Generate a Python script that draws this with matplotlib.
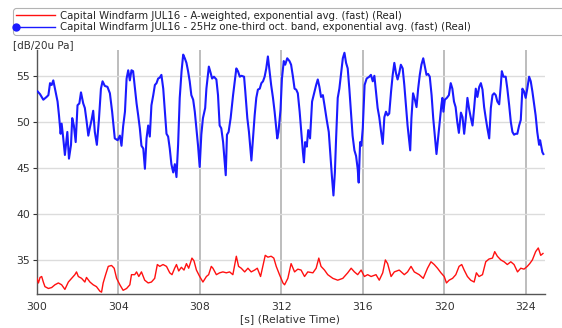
import matplotlib
matplotlib.use("Agg")
import matplotlib.pyplot as plt
from matplotlib.legend_handler import HandlerLine2D

# ---------------- data ----------------
blue_t = [300.03, 300.15, 300.31, 300.47, 300.56, 300.64, 300.72, 300.80, 300.91, 301.01,
          301.08, 301.16, 301.21, 301.29, 301.37, 301.49, 301.57, 301.67, 301.73, 301.81,
          301.90, 301.99, 302.08, 302.16, 302.27, 302.35, 302.44, 302.52, 302.60, 302.68,
          302.76, 302.84, 302.94, 303.04, 303.14, 303.22, 303.33, 303.46, 303.58, 303.69,
          303.82, 303.96, 304.07, 304.15, 304.23, 304.32, 304.40, 304.48, 304.56, 304.64,
          304.72, 304.81, 304.89, 304.97, 305.05, 305.13, 305.22, 305.30, 305.38, 305.46,
          305.54, 305.62, 305.71, 305.79, 305.87, 305.95, 306.03, 306.11, 306.20, 306.28,
          306.36, 306.44, 306.52, 306.60, 306.69, 306.77, 306.85, 306.93, 307.01, 307.10,
          307.18, 307.26, 307.34, 307.42, 307.50, 307.58, 307.67, 307.75, 307.83, 307.91,
          307.99, 308.07, 308.15, 308.26, 308.32, 308.44, 308.53, 308.60, 308.69, 308.81,
          308.89, 308.97, 309.05, 309.14, 309.22, 309.27, 309.33, 309.41, 309.51, 309.63,
          309.79, 309.87, 309.96, 310.04, 310.17, 310.23, 310.33, 310.41, 310.53, 310.61,
          310.69, 310.77, 310.85, 310.94, 311.02, 311.10, 311.18, 311.26, 311.34, 311.42,
          311.50, 311.59, 311.67, 311.75, 311.80, 311.86, 311.96, 312.03, 312.12, 312.19,
          312.29, 312.40, 312.48, 312.57, 312.65, 312.73, 312.81, 312.90, 312.98, 313.06,
          313.11, 313.17, 313.25, 313.32, 313.41, 313.51, 313.63, 313.71, 313.79, 313.87,
          313.95, 314.04, 314.12, 314.23, 314.33, 314.40, 314.48, 314.56, 314.63, 314.69,
          314.77, 314.85, 314.94, 315.02, 315.10, 315.18, 315.26, 315.34, 315.42, 315.50,
          315.59, 315.67, 315.75, 315.80, 315.87, 315.93, 316.00, 316.09, 316.19, 316.32,
          316.40, 316.49, 316.57, 316.65, 316.73, 316.81, 316.90, 316.98, 317.06, 317.14,
          317.22, 317.30, 317.39, 317.47, 317.55, 317.63, 317.71, 317.79, 317.87, 317.96,
          318.04, 318.12, 318.20, 318.27, 318.33, 318.39, 318.47, 318.56, 318.64, 318.72,
          318.80, 318.88, 318.97, 319.05, 319.13, 319.21, 319.29, 319.38, 319.46, 319.54,
          319.62, 319.70, 319.78, 319.86, 319.91, 319.96, 320.03, 320.13, 320.23, 320.32,
          320.40, 320.48, 320.56, 320.64, 320.72, 320.82, 320.90, 320.98, 321.06, 321.14,
          321.23, 321.31, 321.39, 321.47, 321.55, 321.63, 321.72, 321.80, 321.88, 321.96,
          322.04, 322.12, 322.21, 322.29, 322.37, 322.45, 322.53, 322.61, 322.70, 322.78,
          322.83, 322.91, 323.02, 323.10, 323.19, 323.27, 323.35, 323.43, 323.51, 323.59,
          323.68, 323.76, 323.84, 323.92, 324.00, 324.08, 324.17, 324.25, 324.33, 324.41,
          324.49, 324.57, 324.66, 324.71, 324.77, 324.82, 324.87]
blue_v = [53.3, 53.0, 52.4, 52.7, 52.9, 54.2, 54.0, 54.5, 53.3, 52.2,
          50.7, 48.7, 49.8, 48.2, 46.4, 48.9, 46.0, 47.5, 50.4, 49.6,
          47.8, 51.8, 52.0, 53.2, 52.0, 51.5, 50.0, 48.5, 49.4, 50.2,
          51.2, 48.9, 47.5, 50.2, 53.6, 54.4, 53.9, 53.8, 53.1, 51.1,
          48.2, 48.0, 48.5, 47.4, 49.5, 51.1, 54.7, 55.6, 54.5, 55.6,
          55.5, 53.6, 52.0, 50.7, 49.3, 47.4, 47.1, 44.9, 48.2, 49.6,
          48.4, 51.8, 52.9, 54.0, 54.2, 54.7, 54.8, 55.1, 53.6, 51.1,
          48.7, 48.4, 47.1, 45.4, 44.5, 45.4, 44.0, 47.5, 52.6, 55.5,
          57.3, 56.9, 56.4, 55.5, 54.4, 52.9, 52.4, 51.1, 49.3, 47.4,
          45.1, 48.6, 50.4, 51.5, 53.6, 56.0, 55.3, 54.7, 54.9, 54.6,
          52.9, 49.6, 49.3, 47.8, 45.6, 44.2, 48.6, 48.9, 50.4, 52.9,
          55.8, 55.5, 54.9, 55.0, 54.9, 53.3, 50.4, 48.9, 45.8, 48.2,
          50.7, 52.6, 53.5, 53.6, 54.2, 54.4, 54.9, 55.8, 57.1, 55.5,
          54.0, 52.6, 51.1, 49.3, 48.2, 48.9, 51.3, 54.7, 56.6, 56.2,
          56.9, 56.6, 56.2, 54.9, 53.6, 53.5, 53.1, 51.1, 48.9, 46.7,
          45.6, 47.8, 47.3, 49.1, 48.2, 52.2, 53.3, 54.0, 54.6, 53.8,
          52.7, 52.9, 51.8, 50.2, 48.9, 46.7, 44.2, 42.0, 44.5, 48.2,
          52.6, 53.6, 55.3, 56.9, 57.5, 56.4, 55.8, 53.6, 51.1, 48.5,
          46.9, 46.3, 44.9, 43.4, 47.8, 47.4, 49.3, 54.0, 54.7, 54.9,
          55.1, 54.4, 55.0, 53.3, 51.5, 50.5, 48.9, 47.6, 50.5, 51.1,
          50.7, 50.9, 53.3, 55.1, 56.4, 55.3, 54.6, 55.3, 56.2, 55.8,
          54.0, 51.8, 49.6, 48.2, 46.9, 50.4, 53.1, 52.4, 51.6, 53.6,
          55.1, 56.2, 56.9, 56.0, 55.1, 55.2, 54.9, 52.9, 50.4, 48.5,
          46.5, 48.2, 50.0, 51.8, 52.6, 51.1, 52.4, 52.6, 52.9, 54.2,
          53.6, 52.2, 51.6, 50.0, 48.8, 51.0, 50.5, 48.7, 50.4, 52.6,
          51.3, 50.4, 49.6, 51.5, 53.6, 52.7, 53.8, 54.2, 53.5, 51.6,
          50.4, 49.3, 48.2, 51.5, 52.9, 53.1, 52.9, 52.2, 51.9, 54.0,
          55.5, 54.9, 54.9, 53.6, 51.8, 50.0, 48.9, 48.6, 48.7, 48.7,
          49.6, 50.2, 53.6, 53.3, 52.6, 53.6, 54.9, 54.4, 53.3, 52.0,
          50.7, 48.9, 47.5, 48.0, 47.3, 46.7, 46.5]

red_t = [300.00, 300.07, 300.15, 300.23, 300.31, 300.39, 300.56, 300.72, 300.88, 301.05,
         301.21, 301.37, 301.54, 301.70, 301.86, 301.94, 302.03, 302.19, 302.35, 302.43,
         302.60, 302.76, 302.92, 303.09, 303.17, 303.25, 303.37, 303.50, 303.66, 303.79,
         303.91, 304.07, 304.23, 304.40, 304.56, 304.64, 304.80, 304.89, 305.00, 305.13,
         305.29, 305.46, 305.62, 305.78, 305.91, 306.03, 306.19, 306.36, 306.52, 306.63,
         306.76, 306.85, 306.96, 307.09, 307.22, 307.34, 307.45, 307.61, 307.71, 307.83,
         307.99, 308.15, 308.32, 308.43, 308.56, 308.64, 308.81, 308.97, 309.13, 309.30,
         309.46, 309.62, 309.79, 309.90, 310.03, 310.20, 310.36, 310.52, 310.69, 310.82,
         310.98, 311.09, 311.21, 311.34, 311.50, 311.63, 311.75, 311.91, 312.08, 312.16,
         312.32, 312.48, 312.65, 312.81, 312.97, 313.14, 313.30, 313.55, 313.71, 313.84,
         313.95, 314.12, 314.28, 314.53, 314.77, 315.02, 315.26, 315.43, 315.59, 315.75,
         315.92, 316.08, 316.24, 316.41, 316.65, 316.81, 316.98, 317.11, 317.22, 317.39,
         317.55, 317.79, 318.04, 318.20, 318.37, 318.53, 318.77, 318.97, 319.18, 319.35,
         319.51, 319.67, 319.84, 320.00, 320.11, 320.24, 320.41, 320.57, 320.73, 320.86,
         320.98, 321.14, 321.30, 321.47, 321.58, 321.71, 321.88, 322.04, 322.20, 322.37,
         322.48, 322.61, 322.78, 322.94, 323.10, 323.27, 323.43, 323.60, 323.76, 323.92,
         324.08, 324.20, 324.33, 324.49, 324.62, 324.74, 324.85]
red_v = [33.0, 32.5, 33.1, 33.2, 32.6, 32.1, 31.9, 32.0, 32.3, 32.5,
         32.3, 31.8, 32.6, 33.0, 33.4, 33.7, 33.2, 33.0, 32.6, 33.1,
         32.6, 32.3, 32.1, 31.6, 31.5, 32.5, 33.4, 34.3, 34.4, 34.1,
         33.0, 32.3, 31.7, 31.9, 32.3, 33.4, 33.4, 33.7, 33.2, 33.7,
         32.8, 32.5, 32.6, 33.0, 34.5, 34.3, 34.5, 34.3, 33.6, 33.4,
         34.1, 34.5, 33.8, 34.2, 33.9, 34.6, 34.1, 35.2, 34.9, 33.9,
         33.2, 32.6, 33.2, 33.4, 34.3, 34.1, 33.4, 33.6, 33.7, 33.6,
         33.7, 33.4, 35.4, 34.3, 34.1, 33.7, 34.1, 33.7, 33.9, 34.1,
         33.2, 34.3, 35.5, 35.3, 35.4, 35.2, 34.3, 33.4, 32.5, 32.3,
         33.0, 34.6, 33.7, 34.0, 33.9, 33.2, 33.7, 33.6, 34.1, 35.2,
         34.3, 33.9, 33.4, 33.0, 32.8, 33.0, 33.6, 34.1, 33.7, 33.4,
         33.9, 33.2, 33.4, 33.2, 33.4, 32.8, 33.6, 35.0, 34.6, 33.2,
         33.7, 33.9, 33.4, 33.7, 34.3, 33.7, 33.4, 33.0, 34.1, 34.8,
         34.5, 34.1, 33.6, 33.2, 32.5, 32.8, 33.0, 33.4, 34.3, 34.5,
         33.9, 33.2, 32.8, 32.6, 33.6, 33.2, 33.4, 34.8, 35.1, 35.2,
         35.9, 35.4, 35.0, 34.8, 34.5, 34.8, 34.5, 33.7, 34.1, 34.0,
         34.3, 34.6, 35.0, 35.9, 36.3, 35.5, 35.7]

x_ticks = [300, 304, 308, 312, 316, 320, 324]
y_ticks = [35, 40, 45, 50, 55]
label_red = "Capital Windfarm JUL16 - A-weighted, exponential avg. (fast) (Real)"
label_blue = "Capital Windfarm JUL16 - 25Hz one-third oct. band, exponential avg. (fast) (Real)"

# ---------------- figure ----------------
plt.rcParams['font.family'] = ['DejaVu Sans']
W, H = 562, 328
fig = plt.figure(figsize=(W / 100, H / 100), dpi=100)
ax = fig.add_axes([37 / W, 1 - 294 / H, (545 - 37) / W, (294 - 50) / H])

red_line, = ax.plot(red_t, red_v, color='#ff1010', lw=1.0, zorder=3)
blue_line, = ax.plot(blue_t, blue_v, color='#1a1aff', lw=1.5, zorder=4,
                     marker='o', markersize=5, markevery=[])

ax.set_xlim(300, 324.95)
ax.set_ylim(31.3, 57.8)
ax.set_xticks(x_ticks)
ax.set_yticks(y_ticks)
ax.tick_params(axis='both', labelsize=7.8, colors='#333333', length=3, width=0.8)
ax.tick_params(axis='x', length=0, pad=6)
ax.tick_params(axis='y', pad=2)

ax.grid(axis='x', color='#b8b8b8', lw=1.3)
ax.grid(axis='y', color='#dcdcdc', lw=1.0)
ax.set_axisbelow(True)
for s in ['top', 'right']:
    ax.spines[s].set_visible(False)
for s in ['left', 'bottom']:
    ax.spines[s].set_color('#555555')
    ax.spines[s].set_linewidth(1.0)

fig.text(290 / W, 1 - 319 / H, "[s] (Relative Time)", ha='center', va='center',
         fontsize=7.8, color='#333333')
fig.text(13 / W, 1 - 45 / H, "[dB/20u Pa]", ha='left', va='center',
         fontsize=7.5, color='#333333')


class LeftMarkerHandler(HandlerLine2D):
    def create_artists(self, *args, **kwargs):
        arts = super().create_artists(*args, **kwargs)
        for a in arts:
            a.set_markevery([0])
            a.set_linewidth(1.0)
        return arts


leg = fig.legend([red_line, blue_line], [label_red, label_blue],
                 loc='upper left', bbox_to_anchor=(13 / W, 0, 1.05, 1 - 8 / H),
                 mode='expand', borderaxespad=0, fontsize=7.3, numpoints=1,
                 handlelength=3.9, handletextpad=0.45, labelspacing=0.15,
                 borderpad=0.25, fancybox=True, frameon=True,
                 handler_map={blue_line: LeftMarkerHandler()})
leg.get_frame().set_edgecolor('#a0a0a0')
leg.get_frame().set_linewidth(0.8)
leg.get_frame().set_boxstyle('round', pad=0, rounding_size=0.3)
for t in leg.get_texts():
    t.set_color('#222222')

fig.savefig('out.png', dpi=100)
